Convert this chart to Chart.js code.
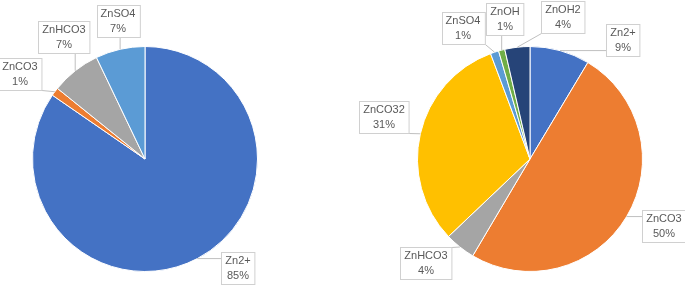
<!DOCTYPE html>
<html>
<head>
<meta charset="utf-8">
<script src="https://cdn.jsdelivr.net/npm/chart.js@4"></script>
<style>
  html, body { margin: 0; padding: 0; background: #fff; }
  #wrap { position: relative; width: 685px; height: 287px; }
  canvas { position: absolute; top: 0; }
</style>
</head>
<body>
<div id="wrap">
  <canvas id="left" width="342" height="287" style="left:0"></canvas>
  <canvas id="right" width="342" height="287" style="left:343px"></canvas>
</div>
<script>
// left pie
const leftLabels = ['Zn2+', 'ZnCO3', 'ZnHCO3', 'ZnSO4'];
const leftValues = [84.6, 1.2, 7.1, 7.1];
const leftColors = ['#4472C4', '#ED7D31', '#A5A5A5', '#5B9BD5'];

// right pie
const rightLabels = ['Zn2+', 'ZnCO3', 'ZnHCO3', 'ZnCO32', 'ZnSO4', 'ZnOH', 'ZnOH2'];
const rightValues = [8.6, 49.9, 4.4, 31.4, 1.2, 0.9, 3.6];
const rightColors = ['#4472C4', '#ED7D31', '#A5A5A5', '#FFC000', '#5B9BD5', '#70AD47', '#264478'];

// callout box centres (canvas-local px)
const leftBoxPos = [[238, 268], [20, 74], [64, 37], [118, 21]];
const rightBoxPos = [[280, 40], [321, 226], [83, 263], [41, 117], [120, 28], [162, 19], [220, 17]];

const calloutPlugin = {
    id: 'callouts',
    afterDatasetsDraw(chart, args, opts) {
        const ctx = chart.ctx;
        const meta = chart.getDatasetMeta(0);
        const values = chart.data.datasets[0].data;
        const total = values.reduce((a, b) => a + b, 0);
        ctx.save();
        ctx.font = '11px "Liberation Sans", Arial, sans-serif';
        ctx.textAlign = 'center';
        ctx.textBaseline = 'middle';
        meta.data.forEach((arc, i) => {
            const p = arc.getProps(['x', 'y', 'startAngle', 'endAngle', 'outerRadius'], true);
            const mid = (p.startAngle + p.endAngle) / 2;
            const px = p.x + Math.cos(mid) * p.outerRadius;
            const py = p.y + Math.sin(mid) * p.outerRadius;
            const name = chart.data.labels[i];
            const pct = Math.round(values[i] / total * 100) + '%';
            const [cx, cy] = opts.boxes[i];
            const w = Math.max(ctx.measureText(name).width, ctx.measureText(pct).width) + 8;
            const h = 32;
            const x0 = Math.round(cx - w / 2) + 0.5, y0 = Math.round(cy - h / 2) + 0.5;
            // leader line to nearest point of box
            const ax = Math.min(Math.max(px, x0), x0 + w);
            const ay = Math.min(Math.max(py, y0), y0 + h);
            ctx.strokeStyle = '#BFBFBF';
            ctx.lineWidth = 1;
            ctx.beginPath();
            ctx.moveTo(ax, ay);
            ctx.lineTo(px, py);
            ctx.stroke();
            ctx.fillStyle = '#fff';
            ctx.fillRect(x0, y0, w, h);
            ctx.strokeStyle = '#D0D0D0';
            ctx.strokeRect(x0, y0, w, h);
            ctx.fillStyle = '#595959';
            ctx.fillText(name, cx, cy - 7);
            ctx.fillText(pct, cx, cy + 8);
        });
        ctx.restore();
    }
};

function makePie(id, labels, values, colors, boxes, padding) {
    return new Chart(document.getElementById(id).getContext('2d'), {
        type: 'pie',
        data: {
            labels: labels,
            datasets: [{
                data: values,
                backgroundColor: colors,
                borderColor: '#ffffff',
                borderWidth: 1
            }]
        },
        options: {
            responsive: false,
            animation: false,
            devicePixelRatio: 1,
            layout: { padding: padding },
            plugins: {
                legend: { display: false },
                tooltip: { enabled: false },
                callouts: { boxes: boxes }
            }
        },
        plugins: [calloutPlugin]
    });
}

makePie('left', leftLabels, leftValues, leftColors, leftBoxPos,
    { left: 32, right: 84, top: 46, bottom: 15 });
makePie('right', rightLabels, rightValues, rightColors, rightBoxPos,
    { left: 74, right: 42, top: 46, bottom: 15 });
</script>
</body>
</html>
